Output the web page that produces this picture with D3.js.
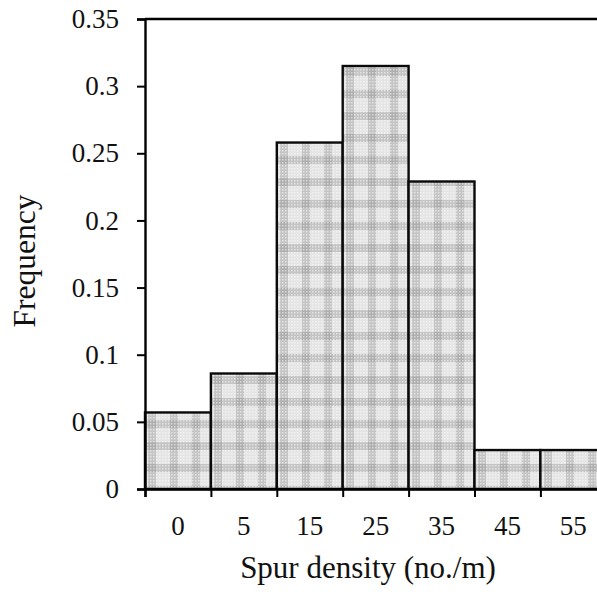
<!DOCTYPE html>
<html>
<head>
<meta charset="utf-8">
<script src="https://cdn.jsdelivr.net/npm/d3@7"></script>
<style>
  body { margin: 0; background: #fff; }
  text { font-family: 'Liberation Serif', 'Times New Roman', serif; fill: #111; }
</style>
</head>
<body>
<div id="chart"></div>
<script>
// bins (labels) and frequency per bin
var bins = ['0', '5', '15', '25', '35', '45', '55']
var freq = [0.057, 0.086, 0.258, 0.315, 0.229, 0.029, 0.029]
var yTicks = [0, 0.05, 0.1, 0.15, 0.2, 0.25, 0.3, 0.35]

var W = 597
var H = 592
var margin = { top: 19, left: 145, bottom: 103 }
var binWidth = 65.9
var height = H - margin.top - margin.bottom

var svg = d3.select('#chart')
  .append('svg')
  .attr('width', W)
  .attr('height', H)

// gingham-ish fill
var defs = svg.append('defs')
var pat = defs.append('pattern')
  .attr('id', 'check')
  .attr('patternUnits', 'userSpaceOnUse')
  .attr('width', 22)
  .attr('height', 22)
  .attr('x', margin.left + 3)
  .attr('y', 2)
pat.append('rect').attr('width', 22).attr('height', 22).attr('fill', '#e4e4e4')
pat.append('rect').attr('x', 0).attr('width', 8).attr('height', 22).attr('fill', '#808080').attr('opacity', 0.32)
pat.append('rect').attr('y', 0).attr('width', 22).attr('height', 8).attr('fill', '#808080').attr('opacity', 0.32)
// fine dot texture
var dots = defs.append('pattern')
  .attr('id', 'dots')
  .attr('patternUnits', 'userSpaceOnUse')
  .attr('width', 3)
  .attr('height', 3)
dots.append('rect').attr('width', 1.5).attr('height', 1.5).attr('fill', '#fff').attr('opacity', 0.5)

var x = d3.scaleLinear()
  .domain([0, bins.length])
  .range([margin.left, margin.left + bins.length * binWidth])

var y = d3.scaleLinear()
  .domain([0, 0.35])
  .range([margin.top + height, margin.top])

var g = svg.append('g')

// bars
var bars = g.selectAll('.bar')
  .data(freq)
  .enter()
  .append('g')
  .attr('class', 'bar')

bars.append('rect')
  .attr('x', (d, i) => x(i))
  .attr('y', d => y(d))
  .attr('width', binWidth)
  .attr('height', d => y(0) - y(d))
  .attr('fill', 'url(#check)')

bars.append('rect')
  .attr('x', (d, i) => x(i))
  .attr('y', d => y(d))
  .attr('width', binWidth)
  .attr('height', d => y(0) - y(d))
  .attr('fill', 'url(#dots)')
  .attr('stroke', '#0a0a0a')
  .attr('stroke-width', 2.4)

// top frame line
g.append('line')
  .attr('x1', margin.left)
  .attr('x2', W + 10)
  .attr('y1', y(0.35))
  .attr('y2', y(0.35))
  .attr('stroke', '#000')
  .attr('stroke-width', 2.4)

// y axis
var yAxis = g.append('g')
  .attr('transform', `translate(${margin.left},0)`)
  .call(d3.axisLeft(y).tickValues(yTicks).tickSize(8).tickPadding(18)
    .tickFormat(d => d === 0 ? '0' : String(+d.toFixed(2))))
yAxis.select('.domain').attr('stroke', '#000').attr('stroke-width', 2.4)
yAxis.selectAll('.tick line').attr('stroke', '#000').attr('stroke-width', 2)
yAxis.selectAll('.tick text')
  .style('font-family', "'Liberation Serif', serif")
  .style('font-size', '27px')
  .style('fill', '#111')
  .attr('dy', '0.32em')

// x axis: ticks at bin edges
var xAxis = g.append('g')
  .attr('transform', `translate(0,${y(0)})`)
  .call(d3.axisBottom(x).tickValues(d3.range(bins.length + 1)).tickSize(8).tickFormat(''))
xAxis.select('.domain').attr('stroke', '#000').attr('stroke-width', 2.4)
xAxis.selectAll('.tick line').attr('stroke', '#000').attr('stroke-width', 2)

// x labels centred in bins
g.selectAll('.xlab')
  .data(bins)
  .enter()
  .append('text')
  .attr('class', 'xlab')
  .attr('x', (d, i) => x(i + 0.5))
  .attr('y', 535)
  .attr('text-anchor', 'middle')
  .style('font-size', '27px')
  .text(d => d)

// axis titles
svg.append('text')
  .attr('x', 368)
  .attr('y', 578)
  .attr('text-anchor', 'middle')
  .style('font-size', '31px')
  .text('Spur density (no./m)')

svg.append('text')
  .attr('transform', 'translate(35,261) rotate(-90)')
  .attr('text-anchor', 'middle')
  .style('font-size', '31.5px')
  .text('Frequency')
</script>
</body>
</html>
